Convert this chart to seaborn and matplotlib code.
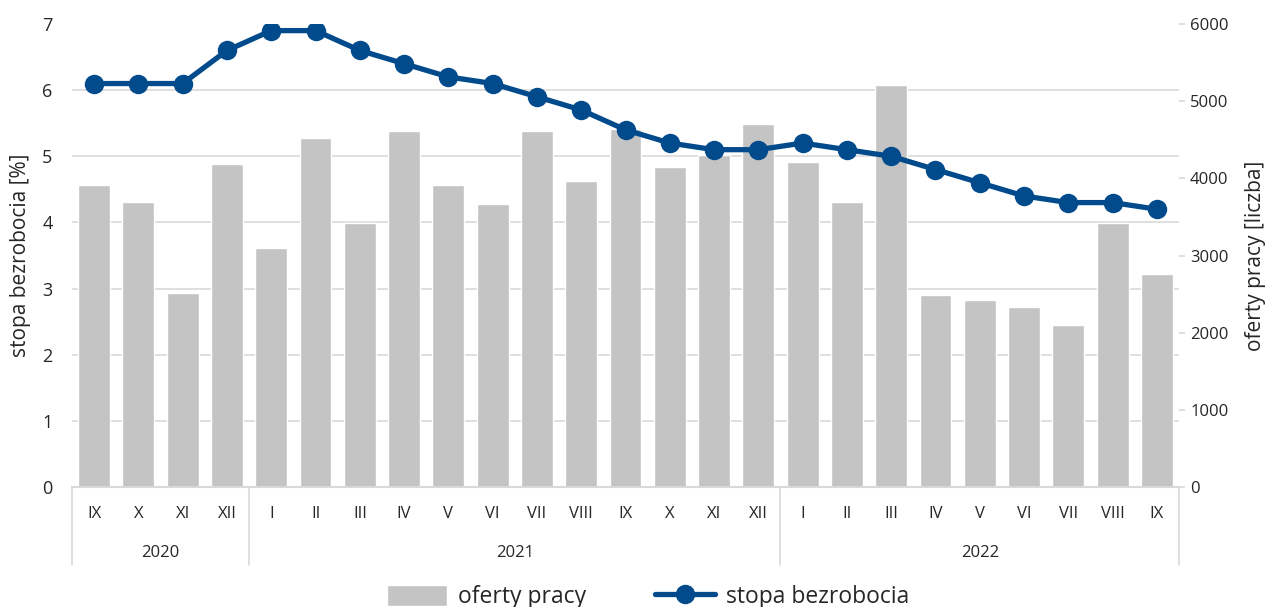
import numpy as np
import pandas as pd
import matplotlib.pyplot as plt
import matplotlib.transforms as mtransforms
from matplotlib.ticker import FixedLocator
import seaborn as sns

sns.set_theme(style='white')
plt.rcParams['font.family'] = ['Open Sans', 'DejaVu Sans']

# Data
months = ['IX', 'X', 'XI', 'XII',
          'I', 'II', 'III', 'IV', 'V', 'VI', 'VII', 'VIII', 'IX', 'X', 'XI', 'XII',
          'I', 'II', 'III', 'IV', 'V', 'VI', 'VII', 'VIII', 'IX']
years = ['2020', '2021', '2022']
year_len = [4, 12, 9]
rate = [6.1, 6.1, 6.1, 6.6,
        6.9, 6.9, 6.6, 6.4, 6.2, 6.1, 5.9, 5.7, 5.4, 5.2, 5.1, 5.1,
        5.2, 5.1, 5.0, 4.8, 4.6, 4.4, 4.3, 4.3, 4.2]
offers = [3910, 3690, 2510, 4190,
          3100, 4520, 3420, 4610, 3910, 3670, 4610, 3960, 4640, 4150, 4300, 4700,
          4210, 3690, 5210, 2490, 2420, 2330, 2100, 3420, 2760]

df = pd.DataFrame({'pos': range(len(months)), 'offers': offers, 'rate': rate})

bar_color = '#c4c4c4'
line_color = '#014b8c'
grid_color = '#d9d9d9'
text_color = '#262626'

fig, ax = plt.subplots(figsize=(12.71, 6.07), dpi=100)
fig.subplots_adjust(left=72 / 1271, right=1179 / 1271, bottom=1 - 487 / 607, top=1 - 24 / 607)

# Bars (right axis)
sns.barplot(data=df, x='pos', y='offers', color=bar_color, saturation=1,
            width=0.72, ax=ax, label='oferty pracy')
ax.set_xlim(-0.5, len(months) - 0.5)
ax.set_ylim(0, 6000)

# Line (left axis)
ax2 = ax.twinx()
sns.lineplot(data=df, x='pos', y='rate', ax=ax2, color=line_color, lw=3.8,
             marker='o', markersize=14, markeredgewidth=0, label='stopa bezrobocia')
ax2.set_ylim(0, 7)
ax2.yaxis.tick_left()
ax2.yaxis.set_label_position('left')
ax2.set_yticks(range(0, 8))
ax2.tick_params(axis='y', labelsize=13, labelcolor=text_color, length=0, pad=14)
ax2.set_ylabel('stopa bezrobocia [%]', fontsize=15, color=text_color, labelpad=8)

# bar axis ticks on the right (after twinx, which resets them)
ax.yaxis.tick_right()
ax.yaxis.set_label_position('right')
ax.set_yticks(range(0, 6001, 1000))
ax.tick_params(axis='y', which='major', labelsize=12, labelcolor=text_color,
               length=4, color=grid_color, pad=4)
ax.set_ylabel('oferty pracy [liczba]', fontsize=15, color=text_color, labelpad=12)

# gridlines follow the left axis ticks (0..7), drawn below bars
ax.yaxis.set_minor_locator(FixedLocator(np.arange(8) * 6000 / 7))
ax.tick_params(axis='y', which='minor', length=0)
ax.grid(which='minor', axis='y', color=grid_color, lw=1.2)
ax.set_axisbelow(True)

for a in (ax, ax2):
    for s in a.spines.values():
        s.set_visible(False)
ax.spines['bottom'].set_visible(True)
ax.spines['bottom'].set_color(grid_color)
ax.spines['bottom'].set_linewidth(1.5)

# x axis: months + years
ax.set_xticks(range(len(months)))
ax.set_xticklabels(months)
ax.tick_params(axis='x', length=0, labelsize=12, labelcolor=text_color, pad=14)
ax.set_xlabel('')

trans = mtransforms.blended_transform_factory(ax.transData, ax.transAxes)
start = -0.5
ax.plot([start, start], [0, -0.168], transform=trans, color=grid_color, lw=1.2, clip_on=False)
for yr, n in zip(years, year_len):
    end = start + n
    ax.text((start + end) / 2, -0.1425, yr, transform=trans, ha='center', va='center',
            fontsize=12, color=text_color)
    ax.plot([end, end], [0, -0.168], transform=trans, color=grid_color, lw=1.2, clip_on=False)
    start = end

# Legend
h1, l1 = ax.get_legend_handles_labels()
h2, l2 = ax2.get_legend_handles_labels()
if ax.get_legend():
    ax.get_legend().remove()
if ax2.get_legend():
    ax2.get_legend().remove()
fig.legend(h1 + h2, l1 + l2, loc='center', bbox_to_anchor=(0.51, 0.016), ncol=2,
           frameon=False, fontsize=16.5, handlelength=2.6, handleheight=1.0,
           handletextpad=0.5, columnspacing=3.0, labelcolor=text_color)

plt.savefig('out.png', dpi=100)
plt.close()
